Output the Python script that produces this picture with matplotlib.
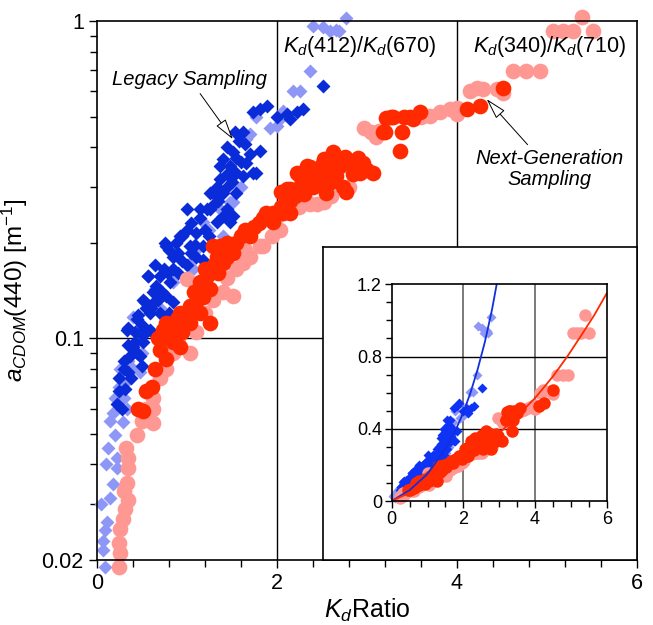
import numpy as np
import matplotlib
matplotlib.use('Agg')
import matplotlib.pyplot as plt
from matplotlib.ticker import FixedLocator, NullFormatter

plt.rcParams['font.family'] = ['Liberation Sans', 'DejaVu Sans']
plt.rcParams['mathtext.fontset'] = 'custom'
plt.rcParams['mathtext.rm'] = 'Liberation Sans'
plt.rcParams['mathtext.it'] = 'Liberation Sans:italic'

# legacy sampling, Kd(412)/Kd(670) -- light and dark diamonds
lb_x = [0.09, 0.07, 0.07, 0.09, 0.11, 0.14, 0.18, 0.22, 0.22, 0.20, 0.29, 0.33, 0.40, 0.48,
        0.44, 0.40, 0.64, 0.68, 1.03, 1.07, 1.18, 1.48, 1.51, 1.66, 1.70, 1.77, 1.92, 2.00,
        2.05, 2.07, 2.18, 2.26, 2.37, 2.40, 2.51, 2.59, 2.66, 2.69, 2.77,
        0.20, 0.25, 0.30, 0.35, 0.50, 0.70, 0.85, 1.10, 1.25, 1.35, 1.60, 1.40, 0.15, 0.12,
        0.10, 0.05, 0.18, 0.26, 0.30]
lb_y = [0.019, 0.0215, 0.023, 0.0248, 0.0263, 0.0314, 0.0346, 0.039, 0.042, 0.0497, 0.0543,
        0.060, 0.080, 0.078, 0.097, 0.117, 0.143, 0.136, 0.173, 0.165, 0.232, 0.268, 0.268,
        0.424, 0.440, 0.497, 0.460, 0.468, 0.494, 0.521, 0.603, 0.603, 0.697, 0.967, 0.956,
        0.932, 0.940, 0.930, 1.02,
        0.065, 0.070, 0.072, 0.085, 0.090, 0.125, 0.150, 0.190, 0.220, 0.260, 0.300, 0.210,
        0.055, 0.045, 0.040, 0.030, 0.058, 0.080, 0.065]

db_x = [0.28, 0.31, 0.33, 0.34, 0.37, 0.40, 0.42, 0.44, 0.46, 0.48, 0.48, 0.51, 0.51, 0.53,
        0.57, 0.57, 0.59, 0.59, 0.66, 0.66, 0.68, 0.70, 0.70, 0.76, 0.77, 0.77, 0.79, 0.81,
        0.85, 0.92, 0.94, 1.00, 1.03, 1.09, 1.10, 1.14, 1.18, 1.18, 1.22, 1.26, 1.26, 1.29,
        1.33, 1.33, 1.37, 1.37, 1.40, 1.40, 1.40, 1.44, 1.48, 1.48, 1.51, 1.51, 1.53, 1.55,
        1.55, 1.62, 1.62, 1.66, 1.73, 1.73, 1.77, 1.81, 1.81, 1.89, 2.00, 2.11, 2.14, 2.22,
        2.29, 2.51,
        0.25, 0.30, 0.35, 0.45, 0.50, 0.55, 0.60, 0.62, 0.55, 0.72, 0.75, 0.85, 0.90, 0.95,
        1.00, 1.05, 1.10, 1.15, 1.20, 1.25, 1.30, 1.35, 1.45, 1.50, 1.45, 1.60, 1.55, 1.45,
        1.70, 1.65, 1.58, 0.65, 0.80, 0.88, 0.42, 0.50, 0.38,
        0.85, 0.90, 1.00, 1.05, 0.80, 0.25, 0.30, 0.35, 0.22]
db_y = [0.060, 0.069, 0.106, 0.108, 0.088, 0.094, 0.097, 0.115, 0.118, 0.104, 0.088, 0.097,
        0.132, 0.130, 0.157, 0.157, 0.120, 0.106, 0.146, 0.132, 0.132, 0.157, 0.120, 0.200,
        0.195, 0.136, 0.160, 0.150, 0.180, 0.210, 0.210, 0.255, 0.195, 0.197, 0.180, 0.255,
        0.177, 0.195, 0.255, 0.288, 0.255, 0.288, 0.300, 0.232, 0.350, 0.317, 0.288, 0.243,
        0.367, 0.255, 0.232, 0.350, 0.243, 0.386, 0.448, 0.288, 0.333, 0.325, 0.446, 0.358,
        0.333, 0.515, 0.333, 0.390, 0.527, 0.540, 0.497, 0.508, 0.490, 0.515, 0.527, 0.625,
        0.075, 0.080, 0.095, 0.090, 0.110, 0.105, 0.125, 0.140, 0.125, 0.140, 0.165, 0.165,
        0.185, 0.175, 0.220, 0.230, 0.215, 0.240, 0.220, 0.210, 0.265, 0.270, 0.300, 0.310,
        0.330, 0.360, 0.370, 0.400, 0.380, 0.410, 0.420, 0.170, 0.190, 0.200, 0.105, 0.082,
        0.075,
        0.130, 0.160, 0.170, 0.185, 0.120, 0.068, 0.085, 0.078, 0.062]

# next-generation sampling, Kd(340)/Kd(710) -- pink and red circles
pk_x = [0.24, 0.26, 0.24, 0.26, 0.29, 0.31, 0.35, 0.33, 0.35, 0.35, 0.44, 0.62, 0.62, 0.62,
        0.77, 0.96, 1.03, 1.00, 1.29, 1.51, 1.55, 1.62, 1.81, 1.85, 1.85, 2.00, 2.03, 2.00,
        2.11, 2.14, 2.18, 2.33, 2.37, 2.52, 2.97, 3.05, 3.13, 3.70, 3.81, 3.92, 4.00, 4.22,
        4.29, 4.44, 4.51, 4.62, 4.77, 4.92, 5.07, 5.18, 5.29, 5.51, 5.39,
        0.50, 0.55, 0.70, 0.85, 0.90, 1.10, 1.20, 1.40, 1.45, 1.70, 1.65, 1.95, 2.25, 2.45,
        2.60, 2.80, 3.10, 3.60, 4.00, 4.15, 0.30, 0.32]
pk_y = [0.019, 0.021, 0.0226, 0.025, 0.027, 0.029, 0.031, 0.035, 0.039, 0.042, 0.0497,
        0.054, 0.060, 0.065, 0.080, 0.109, 0.090, 0.154, 0.132, 0.136, 0.165, 0.173, 0.195,
        0.195, 0.237, 0.243, 0.220, 0.220, 0.262, 0.270, 0.274, 0.268, 0.264, 0.268, 0.460,
        0.446, 0.450, 0.502, 0.516, 0.527, 0.508, 0.615, 0.610, 0.610, 0.595, 0.697, 0.697,
        0.697, 0.932, 0.932, 0.932, 0.932, 1.03,
        0.055, 0.060, 0.075, 0.090, 0.100, 0.105, 0.120, 0.140, 0.155, 0.180, 0.190, 0.210,
        0.260, 0.265, 0.280, 0.300, 0.430, 0.500, 0.530, 0.600, 0.033, 0.045]

rd_x = [0.46, 0.51, 0.61, 0.70, 0.77, 0.85, 0.92, 0.73, 0.77, 0.89, 0.92, 1.03, 1.03, 1.14,
        1.26, 1.14, 1.22, 1.26, 1.33, 1.40, 1.40, 1.51, 1.37, 1.29, 1.48, 1.44, 1.70, 1.92,
        1.96, 1.96, 1.88, 2.00, 2.07, 2.14, 2.11, 2.14, 2.22, 2.29, 2.22, 2.26, 2.33, 2.37,
        2.37, 2.44, 2.52, 2.52, 2.51, 2.55, 2.62, 2.66, 2.70, 2.73, 2.76, 2.77, 2.81, 2.84,
        2.92, 2.96, 3.07, 3.18, 3.20, 3.21, 3.27, 3.29, 3.37, 3.39, 3.41, 3.48, 3.51, 3.59,
        4.11, 4.26, 4.51,
        0.55, 0.65, 0.68, 0.80, 0.85, 0.95, 1.00, 1.10, 1.08, 1.18, 1.20, 1.30, 1.35, 1.45,
        1.55, 1.60, 1.65, 1.75, 1.80, 1.85, 2.05, 2.15, 2.20, 2.30, 2.40, 2.45, 2.60, 2.60,
        2.90, 3.00, 2.55, 2.05, 2.68]
rd_y = [0.060, 0.059, 0.070, 0.092, 0.086, 0.097, 0.094, 0.106, 0.112, 0.115, 0.120, 0.112,
        0.126, 0.120, 0.112, 0.150, 0.157, 0.143, 0.180, 0.173, 0.190, 0.186, 0.195, 0.195,
        0.195, 0.180, 0.210, 0.237, 0.249, 0.232, 0.249, 0.249, 0.249, 0.249, 0.295, 0.295,
        0.295, 0.300, 0.333, 0.325, 0.350, 0.310, 0.346, 0.313, 0.300, 0.367, 0.358, 0.288,
        0.386, 0.325, 0.350, 0.300, 0.372, 0.290, 0.358, 0.329, 0.333, 0.358, 0.333, 0.446,
        0.446, 0.494, 0.497, 0.497, 0.390, 0.446, 0.497, 0.497, 0.490, 0.516, 0.527, 0.540,
        0.617,
        0.068, 0.080, 0.100, 0.100, 0.108, 0.105, 0.118, 0.130, 0.140, 0.135, 0.165, 0.170,
        0.160, 0.200, 0.200, 0.210, 0.220, 0.225, 0.230, 0.240, 0.260, 0.270, 0.280, 0.285,
        0.300, 0.330, 0.310, 0.350, 0.370, 0.340, 0.330, 0.290, 0.370]

# fitted curves
fit_blue_x = [0.0, 0.5, 1.0, 1.5, 1.8, 2.0, 2.2, 2.4, 2.6, 2.8, 2.93]
fit_blue_y = [0.0, 0.06, 0.15, 0.29, 0.40, 0.49, 0.60, 0.73, 0.88, 1.06, 1.20]
fit_red_x = [0.0, 0.5, 1.0, 1.5, 2.0, 2.5, 3.0, 3.5, 4.0, 4.5, 4.9, 5.3, 5.67, 6.0]
fit_red_y = [0.0, 0.045, 0.097, 0.155, 0.22, 0.29, 0.375, 0.47, 0.57, 0.69, 0.80, 0.92, 1.035, 1.15]

c_lb = '#8e96f6'
c_db = '#0a2bd8'
c_pk = '#ff9893'
c_rd = '#ff2a00'

fig = plt.figure(figsize=(6.53, 6.25), dpi=100)
ax = fig.add_axes([0.1485, 0.104, 0.827, 0.8624])
ax.set_yscale('log')

ax.axvline(2, color='black', lw=1, zorder=0)
ax.axvline(4, color='black', lw=1, zorder=0)
ax.axhline(0.1, color='black', lw=1, zorder=0)

ax.plot(lb_x, lb_y, 'D', color=c_lb, ms=7.2, mec='none', clip_on=False)
ax.plot(db_x, db_y, 'D', color=c_db, ms=7.2, mec='none', clip_on=False)
ax.plot(pk_x, pk_y, 'o', color=c_pk, ms=11.3, mec='none', clip_on=False)
ax.plot(rd_x, rd_y, 'o', color=c_rd, ms=11.3, mec='none', clip_on=False)

ax.set_xlim(0, 6)
ax.set_ylim(0.02, 1)
ax.xaxis.set_major_locator(FixedLocator([0, 2, 4, 6]))
ax.xaxis.set_minor_locator(FixedLocator(np.arange(0, 6.01, 0.4)))
ax.yaxis.set_major_locator(FixedLocator([0.02, 0.1, 1]))
ax.yaxis.set_minor_locator(FixedLocator([0.03, 0.04, 0.05, 0.06, 0.07, 0.08, 0.09,
                                         0.2, 0.3, 0.4, 0.5, 0.6, 0.7, 0.8, 0.9]))
ax.yaxis.set_minor_formatter(NullFormatter())
ax.set_xticklabels(['0', '2', '4', '6'])
ax.set_yticklabels(['0.02', '0.1', '1'])
ax.tick_params(which='both', direction='out', labelsize=15.5, width=1)
ax.tick_params(which='major', length=6)
ax.tick_params(which='minor', length=5)
for s in ax.spines.values():
    s.set_linewidth(1.2)

ax.set_xlabel(r'$K_d$Ratio', fontsize=18, labelpad=2)
ax.set_ylabel(r'$a_{CDOM}$(440) [m$^{\mathregular{-1}}$]', fontsize=17.5, labelpad=8)

ax.text(2.92, 0.83, r'$K_d$(412)/$K_d$(670)', fontsize=15.5, ha='center', va='center')
ax.text(5.03, 0.83, r'$K_d$(340)/$K_d$(710)', fontsize=15.5, ha='center', va='center')

arrow = dict(arrowstyle='-|>,head_length=0.9,head_width=0.25', fc='white', ec='black',
             lw=0.7, shrinkA=2, shrinkB=0)
ax.annotate('Legacy Sampling', xy=(1.51, 0.424), xytext=(1.03, 0.656), fontsize=14.5,
            style='italic', ha='center', va='center', arrowprops=arrow)
ax.annotate('Next-Generation\nSampling', xy=(4.33, 0.567), xytext=(5.03, 0.341),
            fontsize=14.5, style='italic', ha='center', va='center', linespacing=1.1,
            arrowprops=arrow)

# white box holding the linear inset
box = fig.add_axes([0.4942, 0.104, 0.4813, 0.5008])
box.set_xticks([])
box.set_yticks([])
box.set_facecolor('white')
for s in box.spines.values():
    s.set_linewidth(1.2)

ins = fig.add_axes([0.5998, 0.1984, 0.3293, 0.3467])
ins.axvline(2, color='#707070', lw=1.3, zorder=0)
ins.axvline(4, color='#707070', lw=1.3, zorder=0)
ins.axhline(0.4, color='black', lw=1, zorder=0)
ins.axhline(0.8, color='black', lw=1, zorder=0)
ins.plot(lb_x, lb_y, 'D', color=c_lb, ms=5.0, mec='none', clip_on=False)
ins.plot(db_x, db_y, 'D', color='#0f33f5', ms=5.0, mec='none', clip_on=False)
ins.plot(pk_x, pk_y, 'o', color=c_pk, ms=9.0, mec='none', clip_on=False)
ins.plot(rd_x, rd_y, 'o', color=c_rd, ms=9.0, mec='none', clip_on=False)
ins.plot(fit_blue_x, fit_blue_y, '-', color='#1030e0', lw=1.3)
ins.plot(fit_red_x, fit_red_y, '-', color=c_rd, lw=1.3)
ins.set_xlim(0, 6)
ins.set_ylim(0, 1.2)
ins.xaxis.set_major_locator(FixedLocator([0, 2, 4, 6]))
ins.xaxis.set_minor_locator(FixedLocator(np.arange(0, 6.01, 0.5)))
ins.yaxis.set_major_locator(FixedLocator([0, 0.4, 0.8, 1.2]))
ins.yaxis.set_minor_locator(FixedLocator(np.arange(0, 1.21, 0.1)))
ins.set_xticklabels(['0', '2', '4', '6'])
ins.set_yticklabels(['0', '0.4', '0.8', '1.2'])
ins.tick_params(which='both', direction='out', labelsize=13, width=1, pad=2)
ins.tick_params(which='major', length=5)
ins.tick_params(which='minor', length=4)
for s in ins.spines.values():
    s.set_linewidth(1.2)

fig.savefig('out.png', dpi=100)
